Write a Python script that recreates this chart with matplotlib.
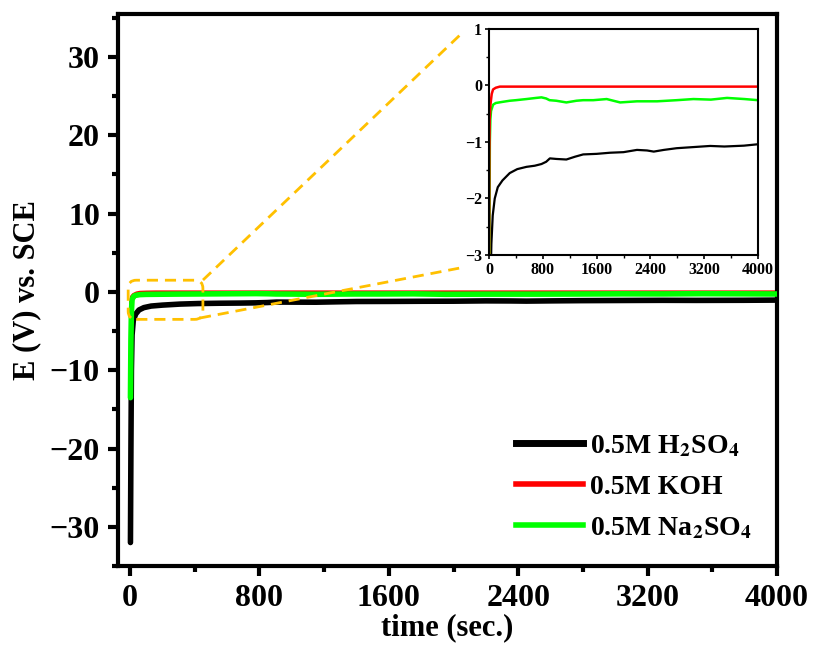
import matplotlib
matplotlib.use("Agg")
import matplotlib.pyplot as plt
from matplotlib.patches import FancyBboxPatch
from matplotlib.lines import Line2D
from matplotlib.ticker import MultipleLocator

plt.rcParams['font.family'] = ['Liberation Serif', 'DejaVu Serif']
plt.rcParams['font.weight'] = 'bold'
plt.rcParams['mathtext.fontset'] = 'stix'

# Open circuit potential vs time
t_h2so4 = [2, 5, 8, 12, 20, 35, 55, 85, 130, 200, 308, 420, 557, 680, 780, 850, 905,
           1000, 1150, 1280, 1400, 1600, 1800, 2000, 2200, 2350, 2450, 2600, 2790,
           3040, 3290, 3500, 3790, 4000]
e_h2so4 = [-32, -20, -10, -5.5, -3.6, -2.8, -2.3, -2.0, -1.8, -1.68, -1.55, -1.48,
           -1.44, -1.42, -1.39, -1.35, -1.29, -1.3, -1.31, -1.26, -1.22, -1.21, -1.19,
           -1.18, -1.14, -1.15, -1.17, -1.14, -1.11, -1.09, -1.07, -1.08, -1.065, -1.04]

t_koh = [2, 5, 10, 20, 40, 60, 100, 160, 400, 1000, 2000, 3000, 4000]
e_koh = [-3.2, -1.2, -0.6, -0.35, -0.15, -0.07, -0.04, -0.02, -0.02, -0.02, -0.02, -0.02, -0.02]

t_na2so4 = [2, 5, 8, 12, 20, 30, 60, 100, 200, 308, 400, 557, 700, 780, 850, 900,
            1000, 1150, 1300, 1400, 1550, 1750, 1950, 2200, 2500, 2790, 3040, 3300,
            3540, 3800, 4000]
e_na2so4 = [-13.5, -6, -2.5, -1.0, -0.6, -0.45, -0.34, -0.31, -0.29, -0.27, -0.26,
            -0.24, -0.22, -0.21, -0.23, -0.26, -0.27, -0.3, -0.27, -0.26, -0.26, -0.24,
            -0.3, -0.28, -0.28, -0.26, -0.24, -0.25, -0.22, -0.24, -0.26]

labels = [r'0.5M H$_\mathbf{2}$SO$_\mathbf{4}$', '0.5M KOH', r'0.5M Na$_\mathbf{2}$SO$_\mathbf{4}$']
colors = ['black', '#ff0000', '#00ff00']
x_ticks = [0, 800, 1600, 2400, 3200, 4000]
gold = '#ffc000'

fig = plt.figure(figsize=(8.16, 6.5), dpi=100)
ax = fig.add_axes([0.1446, 0.1292, 0.8076, 0.8493])

ax.plot(t_h2so4, e_h2so4, color=colors[0], lw=4, solid_capstyle='round', zorder=3)
ax.plot(t_na2so4, e_na2so4, color=colors[2], lw=4, solid_capstyle='round', zorder=4)
ax.plot(t_koh, e_koh, color=colors[1], lw=2.5, solid_capstyle='round', zorder=2)

ax.set_xlim(-75, 4000)
ax.set_ylim(-35, 35.5)
ax.set_xticks(x_ticks)
ax.set_yticks([-30, -20, -10, 0, 10, 20, 30])
ax.xaxis.set_minor_locator(MultipleLocator(400))
ax.yaxis.set_minor_locator(MultipleLocator(5))
ax.tick_params(which='major', direction='out', length=7, width=3, labelsize=23, pad=6)
ax.tick_params(which='minor', direction='out', length=4, width=3)
for s in ax.spines.values():
    s.set_linewidth(3)
for lab in ax.get_xticklabels() + ax.get_yticklabels():
    lab.set_fontweight('bold')
ax.set_xlabel('time (sec.)', fontsize=22, fontweight='bold', labelpad=0)
ax.set_ylabel('E (V) vs. SCE', fontsize=22, fontweight='bold', labelpad=6)

handles = [Line2D([], [], color=colors[0], lw=5),
           Line2D([], [], color=colors[1], lw=4),
           Line2D([], [], color=colors[2], lw=4)]
leg = ax.legend(handles, labels, loc='lower right', bbox_to_anchor=(1.0, 0.0),
                frameon=False, prop={'size': 20, 'weight': 'bold'},
                handlelength=2.4, handletextpad=0.25, labelspacing=0.55,
                borderaxespad=0.5)

# zoom box and connecting lines
box = FancyBboxPatch((-12, -3.5), 462, 5.0, boxstyle='round,pad=0,rounding_size=50',
                     mutation_aspect=0.0207, fill=False, ec=gold, lw=2, ls=(0, (4, 2.5)),
                     zorder=5)
ax.add_patch(box)

# inset
ins = fig.add_axes([0.5993, 0.6077, 0.3296, 0.3477])
ins.plot(t_h2so4, e_h2so4, color=colors[0], lw=1.6)
ins.plot(t_na2so4, e_na2so4, color=colors[2], lw=1.8)
ins.plot(t_koh, e_koh, color=colors[1], lw=1.8)
ins.set_xlim(0, 4000)
ins.set_ylim(-3, 1)
ins.set_xticks(x_ticks)
ins.set_yticks([-3, -2, -1, 0, 1])
ins.xaxis.set_minor_locator(MultipleLocator(400))
ins.yaxis.set_minor_locator(MultipleLocator(0.5))
ins.tick_params(which='major', direction='out', length=3, width=1.2, labelsize=11.5, pad=2)
ins.tick_params(which='minor', direction='out', length=2, width=1)
for s in ins.spines.values():
    s.set_linewidth(1.5)
for lab in ins.get_xticklabels() + ins.get_yticklabels():
    lab.set_fontweight('bold')

# dashed connectors in figure coordinates
W, H = 816, 650
for (x0, y0), (x1, y1) in [((203, 280), (460, 35)), ((200, 318), (460, 268))]:
    fig.add_artist(Line2D([x0 / W, x1 / W], [1 - y0 / H, 1 - y1 / H], color=gold,
                          lw=2, ls=(0, (4, 2.5)), transform=fig.transFigure))

fig.savefig('out.png', dpi=100)
